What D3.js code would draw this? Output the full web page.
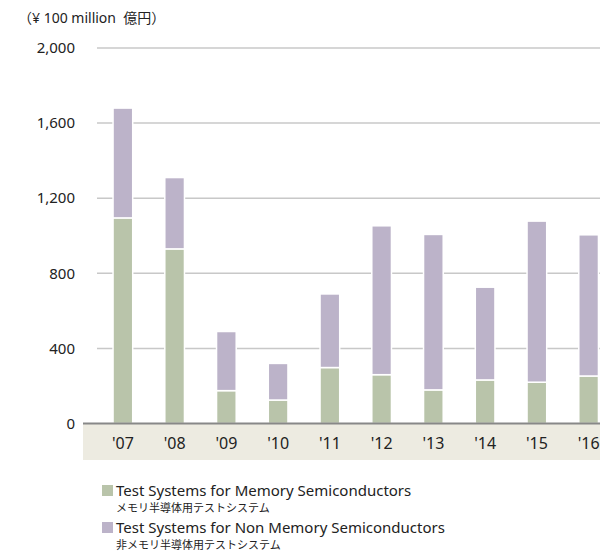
<!DOCTYPE html>
<html>
<head>
<meta charset="utf-8">
<script src="https://cdn.jsdelivr.net/npm/d3@7"></script>
<style>
  body { margin: 0; background: #fff; }
  svg { display: block; font-family: "Noto Sans", "Noto Sans CJK JP", sans-serif; }
  text { white-space: pre; }
</style>
</head>
<body>
<svg id="chart" width="600" height="552"></svg>
<script>
// fiscal years and sales (¥100 million)
var years = ["'07", "'08", "'09", "'10", "'11", "'12", "'13", "'14", "'15", "'16"];
var memory = [1095, 930, 175, 125, 298, 260, 179, 232, 220, 253];
var nonMemory = [585, 380, 315, 195, 392, 793, 828, 494, 858, 752];
var yTicks = [0, 400, 800, 1200, 1600, 2000];

var colors = { memory: "#b9c4aa", nonMemory: "#bcb3c9" };

var svg = d3.select("#chart");

var x = d3.scaleBand()
    .domain(years)
    .range([97, 614.5])
    .paddingInner(0.62)
    .paddingOuter(0.31);

var y = d3.scaleLinear()
    .domain([0, 2000])
    .range([423.5, 48]);

// unit label
svg.append("text")
    .attr("x", 18)
    .attr("y", 23)
    .attr("font-size", 14)
    .attr("fill", "#222")
    .text("（¥ 100 million  億円）");

// gridlines
svg.append("g")
  .selectAll("line")
  .data(yTicks.slice(1))
  .enter().append("line")
    .attr("x1", 97).attr("x2", 600)
    .attr("y1", function(d) { return y(d); })
    .attr("y2", function(d) { return y(d); })
    .attr("stroke", "#c8c8c8")
    .attr("stroke-width", 1.5);

// y labels
svg.append("g")
  .selectAll("text")
  .data(yTicks)
  .enter().append("text")
    .attr("x", 75)
    .attr("y", function(d) { return y(d); })
    .attr("dy", "0.35em")
    .attr("text-anchor", "end")
    .attr("font-size", 15)
    .attr("fill", "#222")
    .text(function(d) { return d3.format(",")(d); });

// stacked bars
var rows = years.map(function(yr, i) {
  return { year: yr, memory: memory[i], nonMemory: nonMemory[i] };
});
var stack = d3.stack().keys(["memory", "nonMemory"]);
var layers = stack(rows);

svg.append("g")
  .selectAll("g")
  .data(layers)
  .enter().append("g")
    .attr("fill", function(d) { return colors[d.key]; })
  .selectAll("rect")
  .data(function(d) { return d; })
  .enter().append("rect")
    .attr("x", function(d) { return x(d.data.year); })
    .attr("y", function(d) { return y(d[1]); })
    .attr("width", x.bandwidth())
    .attr("height", function(d) { return y(d[0]) - y(d[1]); })
    .attr("stroke", "#fff")
    .attr("stroke-width", 1.5);

// x axis band
svg.append("rect")
    .attr("x", 83).attr("y", 424)
    .attr("width", 517).attr("height", 36)
    .attr("fill", "#edebe1");

svg.append("line")
    .attr("x1", 83).attr("x2", 600)
    .attr("y1", 423.5).attr("y2", 423.5)
    .attr("stroke", "#888")
    .attr("stroke-width", 2);

svg.append("g")
  .selectAll("text")
  .data(years)
  .enter().append("text")
    .attr("x", function(d) { return x(d) + x.bandwidth() / 2; })
    .attr("y", 449)
    .attr("text-anchor", "middle")
    .attr("font-size", 16)
    .attr("fill", "#222")
    .text(function(d) { return d; });

// legend
var legend = [
  { en: "Test Systems for Memory Semiconductors", ja: "メモリ半導体用テストシステム", color: colors.memory },
  { en: "Test Systems for Non Memory Semiconductors", ja: "非メモリ半導体用テストシステム", color: colors.nonMemory }
];

var lg = svg.append("g")
  .selectAll("g")
  .data(legend)
  .enter().append("g")
    .attr("transform", function(d, i) { return "translate(0," + (i * 37) + ")"; });

lg.append("rect")
    .attr("x", 102).attr("y", 485)
    .attr("width", 11).attr("height", 11)
    .attr("fill", function(d) { return d.color; });

lg.append("text")
    .attr("x", 116).attr("y", 496)
    .attr("font-size", 15)
    .attr("fill", "#222")
    .text(function(d) { return d.en; });

lg.append("text")
    .attr("x", 116).attr("y", 512)
    .attr("font-size", 11)
    .attr("fill", "#222")
    .text(function(d) { return d.ja; });
</script>
</body>
</html>
